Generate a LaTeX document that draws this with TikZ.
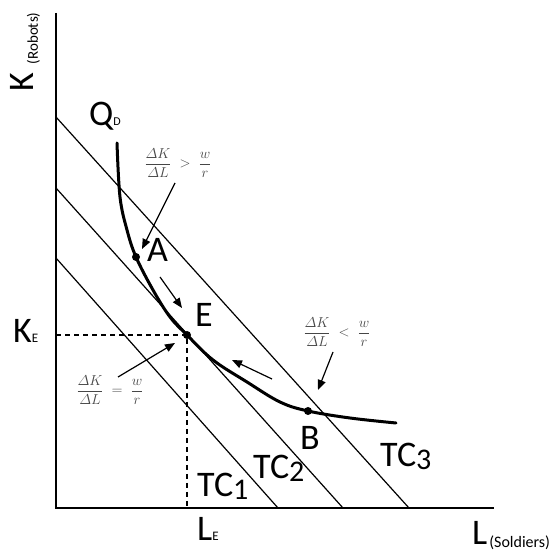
\documentclass[tikz,border=0pt]{standalone}
\usepackage{amsmath}
\usepackage{fontspec}
\setmainfont{Carlito}
\usetikzlibrary{arrows.meta}
\definecolor{fraccol}{RGB}{70,70,70}
\begin{document}
\begin{tikzpicture}[x=1pt,y=-1pt,
  axis/.style={line width=1.8pt},
  tcline/.style={line width=1.2pt},
  qcurve/.style={line width=3pt, line cap=round},
  guide/.style={line width=1.2pt, dash pattern=on 5pt off 4pt},
  ptr/.style={line width=1.2pt,-{Triangle[length=10pt,width=8pt]}},
  dot/.style={circle,fill,inner sep=0pt,minimum size=8pt},
  big/.style={inner sep=0pt,font=\fontsize{36}{36}\selectfont},
  ratio/.style={inner sep=0pt,text=fraccol,font=\fontsize{15}{17}\selectfont},
]
\useasboundingbox (0,0) rectangle (555,553);

% axes
\coordinate (O) at (56,508);
\coordinate (ytop) at (56,13);
\coordinate (xend) at (494,508);
\draw[axis] (ytop) -- (O) -- (xend);

% total cost lines
\coordinate (tc3a) at (56,117);  \coordinate (tc3b) at (409,508);
\coordinate (tc2a) at (56,188);  \coordinate (tc2b) at (343,508);
\coordinate (tc1a) at (56,258);  \coordinate (tc1b) at (278,508);
\draw[tcline] (tc3a) -- (tc3b);
\draw[tcline] (tc2a) -- (tc2b);
\draw[tcline] (tc1a) -- (tc1b);

% isoquant
\coordinate (A) at (136,257);
\coordinate (E) at (187,335);
\coordinate (B) at (308,411);
\draw[qcurve] plot[smooth, tension=0.6] coordinates {(117,143) (120,197) (127,230) (A) (153,290) (170,317) (E) (213,360) (247,382) (280,402) (B) (350,418) (396,423)};

% dashed guides
\coordinate (Ky) at (56,335);
\coordinate (Lx) at (187,508);
\draw[guide] (Ky) -- (E) -- (Lx);

% points
\node[dot] (dA) at (A) {};
\node[dot] (dE) at (E) {};
\node[dot] (dB) at (B) {};

% labels
\node[big, rotate=90, anchor=base west] (klab) at (33,92) {K\hspace{9pt}\raisebox{-5pt}{\fontsize{15}{15}\selectfont(Robots)}};
\node[big, anchor=base west] (qd) at (89,126) {Q\fontsize{12}{12}\selectfont D};
\node[big, anchor=base west] (lA) at (147,262) {A};
\node[big, anchor=base west] (lE) at (195,327) {E};
\node[big, anchor=base west] (lB) at (300,450) {B};
\node[big, anchor=base west] (ke) at (13,343) {K\fontsize{13}{13}\selectfont E};
\node[big, anchor=base west] (le) at (197,540) {L\fontsize{13}{13}\selectfont E};
\node[big, anchor=base west] (lsol) at (472,545) {L\hspace{2pt}\raisebox{-2pt}{\fontsize{16}{16}\selectfont(Soldiers)}};
\node[big, anchor=base west] (tc1) at (197,497) {TC\raisebox{-3pt}{\fontsize{30}{30}\selectfont 1}};
\node[big, anchor=base west] (tc2) at (253,479) {TC\raisebox{-3pt}{\fontsize{30}{30}\selectfont 2}};
\node[big, anchor=base west] (tc3) at (380,467) {TC\raisebox{-3pt}{\fontsize{30}{30}\selectfont 3}};

% ratio conditions
\node[ratio] (rgt) at (178,163) {$\dfrac{\varDelta K}{\varDelta L} \;>\; \dfrac{w}{r}$};
\node[ratio] (rlt) at (337,332) {$\dfrac{\varDelta K}{\varDelta L} \;<\; \dfrac{w}{r}$};
\node[ratio] (req) at (110,390) {$\dfrac{\varDelta K}{\varDelta L} \;=\; \dfrac{w}{r}$};

% pointers
\coordinate (p1s) at (175,183); \coordinate (p1e) at (142,249);
\coordinate (p2s) at (333,352); \coordinate (p2e) at (318,390);
\coordinate (p3s) at (118,377); \coordinate (p3e) at (175,343);
\coordinate (p4s) at (160,277); \coordinate (p4e) at (182,308);
\coordinate (p5s) at (272,379); \coordinate (p5e) at (232,360);
\draw[ptr] (p1s) -- (p1e);
\draw[ptr] (p2s) -- (p2e);
\draw[ptr] (p3s) -- (p3e);
\draw[ptr] (p4s) -- (p4e);
\draw[ptr] (p5s) -- (p5e);
\end{tikzpicture}
\end{document}
